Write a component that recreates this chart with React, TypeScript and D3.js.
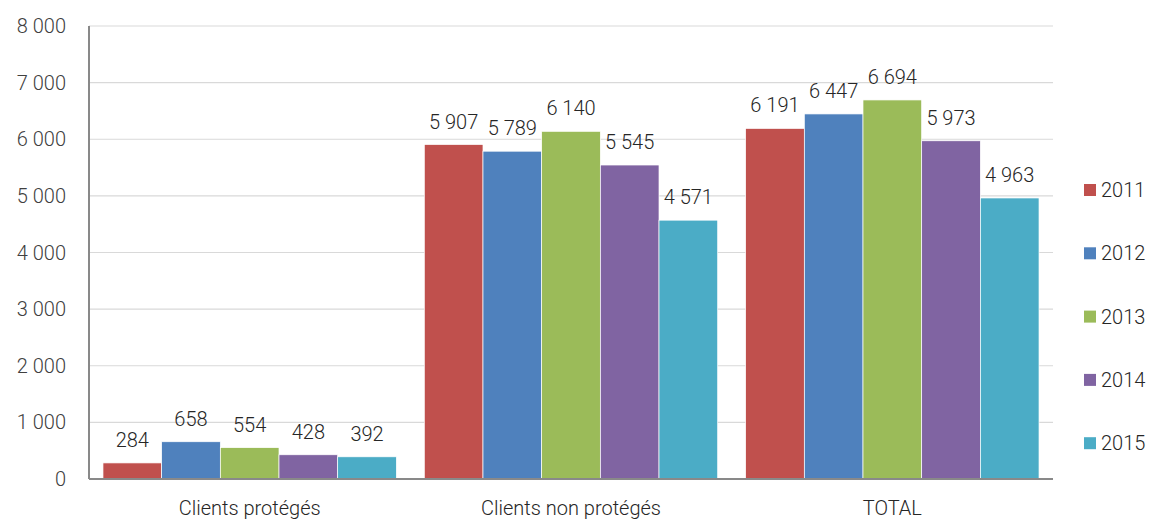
import React from "react";
import * as d3 from "d3";

const categories = ["Clients protégés", "Clients non protégés", "TOTAL"];
const years = ["2011", "2012", "2013", "2014", "2015"];
const v2011 = [284, 5907, 6191];
const v2012 = [658, 5789, 6447];
const v2013 = [554, 6140, 6694];
const v2014 = [428, 5545, 5973];
const v2015 = [392, 4571, 4963];
const seriesValues = [v2011, v2012, v2013, v2014, v2015];
const colors = ["#c0504d", "#4f81bd", "#9bbb59", "#8064a2", "#4bacc6"];
const yTicks = [0, 1000, 2000, 3000, 4000, 5000, 6000, 7000, 8000];

const W = 1151;
const H = 520;
const M = { left: 89, right: 1053, top: 26, bottom: 479 };
const FONT = "Roboto, 'Noto Sans', sans-serif";
const FS = 20;

const locale = d3.formatLocale({ decimal: ",", thousands: "\u00a0", grouping: [3], currency: ["", ""] });
const fmt = locale.format(",d");

export default function App() {
  const x0 = d3.scaleBand().domain(categories).range([M.left, M.right]).paddingInner(0.087).paddingOuter(0.0435);
  const x1 = d3.scaleBand().domain(years).range([0, x0.bandwidth()]).padding(0);
  const y = d3.scaleLinear().domain([0, 8000]).range([M.bottom, M.top]);

  return (
    <svg width={W} height={H} style={{ position: "absolute", left: 0, top: 0, background: "#fff" }} fontFamily={FONT}>
      {yTicks.map((t) => (
        <g key={t}>
          {t > 0 && (
            <line x1={M.left} x2={M.right} y1={y(t)} y2={y(t)} stroke="#d9d9d9" strokeWidth={1.2} />
          )}
          <text x={66} y={y(t)} dy="0.35em" textAnchor="end" fontSize={FS} fontWeight={300} fill="#404040">
            {fmt(t)}
          </text>
        </g>
      ))}
      {categories.map((c, ci) => (
        <g key={c}>
          {years.map((yr, si) => {
            const v = seriesValues[si][ci];
            const bx = (x0(c) as number) + (x1(yr) as number);
            return (
              <g key={yr}>
                <rect x={bx} y={y(v)} width={x1.bandwidth()} height={y(0) - y(v)} fill={colors[si]} stroke="#fff" strokeWidth={0.7} />
                <text x={bx + x1.bandwidth() / 2} y={y(v) - 23} dy="0.35em" textAnchor="middle" fontSize={FS} fontWeight={300} fill="#262626">
                  {fmt(v)}
                </text>
              </g>
            );
          })}
          <text x={(x0(c) as number) + x0.bandwidth() / 2} y={508} dy="0.35em" textAnchor="middle" fontSize={FS} fontWeight={300} fill="#262626">
            {c}
          </text>
        </g>
      ))}
      <line x1={M.left} x2={M.left} y1={M.top} y2={M.bottom} stroke="#898989" strokeWidth={2} />
      <line x1={M.left} x2={M.right} y1={M.bottom} y2={M.bottom} stroke="#898989" strokeWidth={2} />
      {years.map((yr, i) => {
        const ly = 190 + i * 63.3;
        return (
          <g key={yr}>
            <rect x={1084} y={ly - 6} width={12} height={12} fill={colors[i]} />
            <text x={1101} y={ly} dy="0.35em" fontSize={FS} fontWeight={300} fill="#262626">
              {yr}
            </text>
          </g>
        );
      })}
    </svg>
  );
}
